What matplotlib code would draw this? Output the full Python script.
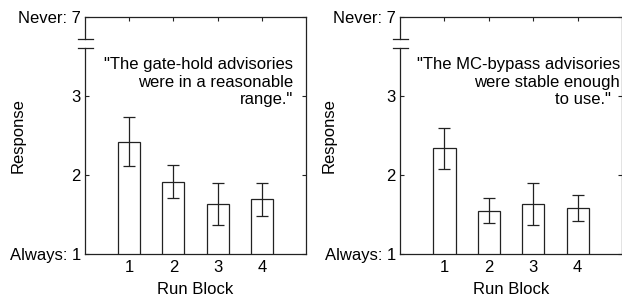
import matplotlib
matplotlib.use("Agg")
import matplotlib.pyplot as plt
import matplotlib.transforms as mtransforms

# --- data ---
blocks = [1, 2, 3, 4]
gate_hold_mean = [2.42, 1.915, 1.63, 1.69]
gate_hold_err = [0.31, 0.21, 0.265, 0.215]
mc_bypass_mean = [2.34, 1.55, 1.63, 1.58]
mc_bypass_err = [0.26, 0.16, 0.265, 0.165]

ytick_vals = [1, 2, 3, 4]
ytick_labels = ["Always: 1", "2", "3", "Never: 7"]

NBSP = "\u00a0"
titles = [
    '"The gate-hold advisories\nwere in a reasonable\nrange."',
    '"The MC-bypass advisories\nwere stable enough\nto use."' + NBSP * 2,
]

# --- style ---
FS = 12
EDGE = "#222222"
BREAK_LO, BREAK_HI = 3.61, 3.72   # spine gap (data units)

plt.rcParams["font.family"] = ["Liberation Sans", "DejaVu Sans"]

fig = plt.figure(figsize=(6.22, 3.0), dpi=100)
ax_l = fig.add_axes([85 / 622, 46 / 300, 221 / 622, 237 / 300])
ax_r = fig.add_axes([400 / 622, 46 / 300, 222 / 622, 237 / 300])


def draw_panel(ax, means, errs, text, text_x, ylab_x):
    ax.bar(blocks, means, width=0.5, bottom=0, color="white",
           edgecolor=EDGE, linewidth=0.9, zorder=2)
    ax.errorbar(blocks, means, yerr=errs, fmt="none", ecolor=EDGE,
                elinewidth=0.9, capsize=4, capthick=0.9, zorder=3)
    ax.set_xlim(0, 5)
    ax.set_ylim(1, 4)
    ax.set_xticks(blocks)
    ax.set_yticks(ytick_vals)
    ax.set_yticklabels(ytick_labels)
    ax.tick_params(direction="in", length=3, width=0.8, color=EDGE,
                   labelsize=FS, top=True, right=True, pad=4)
    ax.tick_params(axis="y", pad=3)
    for s in ax.spines.values():
        s.set_color(EDGE)
        s.set_linewidth(0.9)
        s.set_zorder(4)
    ax.spines["left"].set_visible(False)

    # broken left spine
    tr = mtransforms.blended_transform_factory(ax.transAxes, ax.transData)
    ax.plot([0, 0], [1, BREAK_LO], color=EDGE, lw=0.9, transform=tr, clip_on=False, zorder=5)
    ax.plot([0, 0], [BREAK_HI, 4], color=EDGE, lw=0.9, transform=tr, clip_on=False, zorder=5)
    for yb in (BREAK_LO, BREAK_HI):
        ax.plot([-0.032, 0.038], [yb, yb], color=EDGE, lw=0.9, transform=tr,
                clip_on=False, zorder=5)

    ax.set_xlabel("Run Block", fontsize=FS)
    ax.xaxis.set_label_coords(0.5, -0.12)
    ax.set_ylabel("Response", fontsize=FS)
    ax.yaxis.set_label_coords(ylab_x, 0.5)

    ax.text(text_x, 0.725, text, transform=ax.transAxes, ha="right", va="center",
            multialignment="right", fontsize=FS, linespacing=1.2)


draw_panel(ax_l, gate_hold_mean, gate_hold_err, titles[0], 0.94, -0.27)
draw_panel(ax_r, mc_bypass_mean, mc_bypass_err, titles[1], 0.99, -0.285)

fig.savefig("out.png", dpi=100)
